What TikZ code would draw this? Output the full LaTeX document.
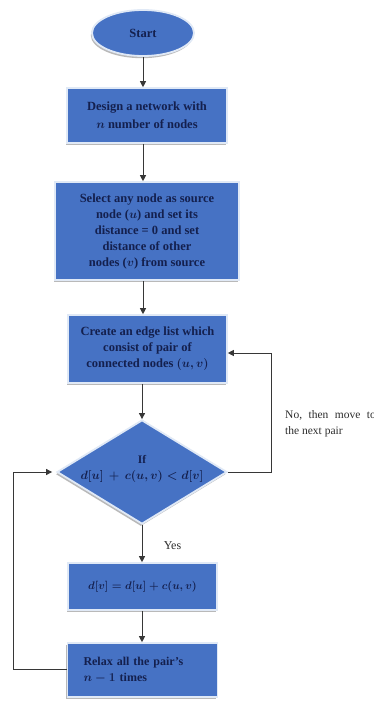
\documentclass[tikz,border=0pt]{standalone}
\usepackage{fontspec}
\setmainfont{Liberation Serif}
\usetikzlibrary{shapes.geometric,arrows.meta,shadows}
\definecolor{boxblue}{RGB}{70,114,196}
\definecolor{rim}{RGB}{224,233,246}
\definecolor{ink}{RGB}{20,32,78}
\definecolor{wire}{RGB}{55,55,55}
\definecolor{note}{RGB}{45,45,45}
\begin{document}
\begin{tikzpicture}[x=1pt,y=-1pt,
  shade/.style={drop shadow={shadow xshift=-1.2pt,shadow yshift=-2.2pt,fill=gray!55,opacity=1}},
  blk/.style={rectangle,fill=boxblue,draw=rim,line width=1.6pt,shade,inner sep=0pt},
  term/.style={ellipse,fill=boxblue,draw=rim,line width=1.8pt,shade,inner sep=0pt},
  decision/.style={diamond,fill=boxblue,draw=rim,line width=1.8pt,shade,inner sep=0pt},
  txt/.style={text=ink,align=center,inner sep=0pt,font=\bfseries\mathversion{bold}\fontsize{12.5}{16}\selectfont},
  arr/.style={draw=wire,line width=0.9pt,-{Triangle[length=6pt,width=6pt]},color=wire},
  lab/.style={text=note,inner sep=0pt,font=\fontsize{11.5}{16}\selectfont}]
\clip (0,0) rectangle (373,704);
\fill[white] (0,0) rectangle (373,704);

% start terminal
\node[term,minimum width=102,minimum height=46] (start) at (143,33) {};
\node[txt] (starttext) at (start.center) {Start};

% process boxes
\node[blk,minimum width=160,minimum height=55] (b1) at (147,115.5) {};
\node[txt,font=\bfseries\mathversion{bold}\fontsize{12.5}{18}\selectfont] (b1text) at (b1.center)
  {Design a network with\\ $n$ number of nodes};

\node[blk,minimum width=184,minimum height=98] (b2) at (147,231) {};
\node[txt] (b2text) at (b2.center)
  {Select any node as source\\ node ($u$) and set its\\ distance = 0 and set\\ distance of other\\ nodes ($v$) from source};

\node[blk,minimum width=159,minimum height=68] (b3) at (147.5,349) {};
\node[txt] (b3text) at (b3.center)
  {Create an edge list which\\ consist of pair of\\ connected nodes $(u,v)$};

% decision
\node[decision,minimum width=170,minimum height=104] (dec) at (142,472) {};
\node[txt,font=\bfseries\mathversion{bold}\fontsize{11.5}{16}\selectfont] (dectext) at (142,469)
  {If\\ $d[u]\,+\,c(u,v) < d[v]$};

\node[blk,minimum width=149,minimum height=47] (b4) at (142.5,586.5) {};
\node[txt,font=\bfseries\mathversion{bold}\fontsize{11}{16}\selectfont] (b4text) at (b4.center)
  {$d[v] = d[u] + c(u,v)$};

\node[blk,minimum width=150,minimum height=54] (b5) at (142.5,670) {};
\node[txt,text width=118,align=left,font=\bfseries\mathversion{bold}\fontsize{12}{16}\selectfont] (b5text) at (b5.center)
  {Relax all the pair's\\ $n - 1$ times};

% main flow
\draw[arr] (start.south) -- (start.south |- b1.north);
\draw[arr] (b1.south -| start.south) -- (b2.north -| start.south);
\draw[arr] (b2.south -| start.south) -- (b3.north -| start.south);
\draw[arr] (b3.south -| dec.north) -- (dec.north);
\draw[arr] (dec.south) -- (dec.south |- b4.north);
\draw[arr] (b4.south -| dec.south) -- (b5.north -| dec.south);

% loop back when the test fails
\coordinate (nobend) at (271,353);
\draw[arr] (dec.east) -| (nobend) -- (b3.east |- nobend);
\node[lab,anchor=north west,align=left] (nolab) at (285,410)
  {{\spaceskip=6.5pt plus 1pt No, then move to}\\ the next pair};

% relaxation loop
\coordinate (relbend) at (13,669);
\draw[arr,shorten >=4pt] (b5.west |- relbend) -- (relbend) |- (dec.west);

\node[lab,font=\fontsize{12}{16}\selectfont] (yeslab) at (172.5,546) {Yes};
\end{tikzpicture}
\end{document}
